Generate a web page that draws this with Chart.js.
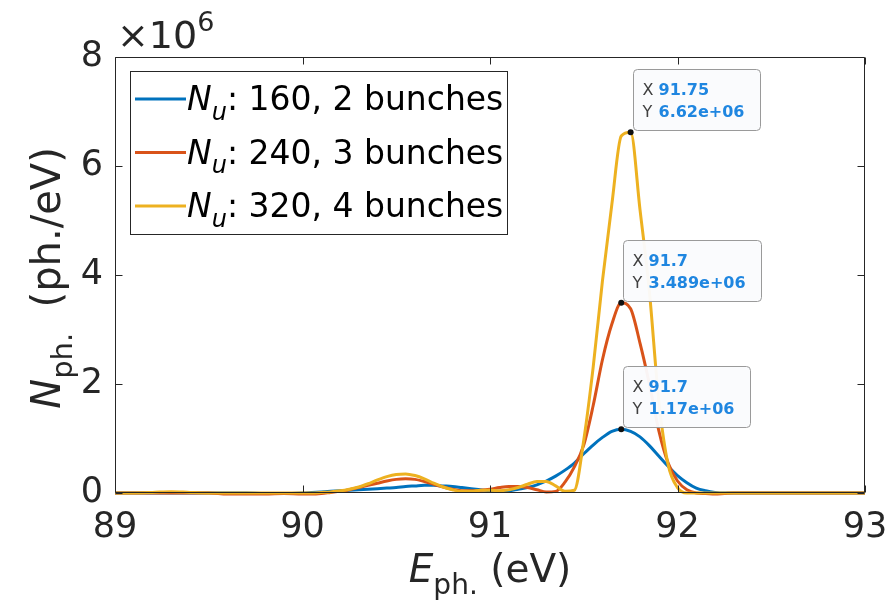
<!DOCTYPE html>
<html>
<head>
<meta charset="utf-8">
<script src="https://cdn.jsdelivr.net/npm/chart.js@4"></script>
<style>
  body { margin: 0; background: #fff; }
</style>
</head>
<body>
<canvas id="myChart" width="888" height="603"></canvas>
<script>
// photon energy grid (eV)
const energies = [
  89.0, 89.1, 89.2, 89.3, 89.4, 89.5, 89.6, 89.7, 89.8, 89.9,
  90.00, 90.05, 90.10, 90.15, 90.20, 90.25, 90.30, 90.35, 90.40, 90.45,
  90.50, 90.55, 90.60, 90.65, 90.70, 90.75, 90.80, 90.85, 90.90, 90.95,
  91.00, 91.05, 91.10, 91.15, 91.20, 91.25, 91.30, 91.35, 91.40, 91.45,
  91.50, 91.55, 91.60, 91.65, 91.70, 91.75, 91.80, 91.85, 91.90, 91.95,
  92.00, 92.05, 92.10, 92.15, 92.20, 92.25, 92.30,
  92.4, 92.5, 92.6, 92.7, 92.8, 92.9, 93.0
];

// spectra in units of 1e6 ph./eV
const nu160 = [
  0, 0, 0, 0, 0, 0, 0, 0, -0.01, -0.01,
  0, 0.01, 0.02, 0.03, 0.04, 0.05, 0.06, 0.07, 0.08, 0.09,
  0.10, 0.12, 0.13, 0.14, 0.14, 0.13, 0.12, 0.10, 0.08, 0.06,
  0.04, 0.03, 0.04, 0.07, 0.10, 0.15, 0.22, 0.31, 0.42, 0.55,
  0.72, 0.88, 1.02, 1.13, 1.17, 1.13, 1.03, 0.87, 0.68, 0.49,
  0.32, 0.19, 0.09, 0.04, 0.01, 0, 0,
  0, 0, 0, 0, 0, 0, 0
];
const nu240 = [
  0, 0, 0, 0, 0, 0, -0.02, -0.02, -0.02, -0.01,
  -0.02, -0.02, -0.01, 0.01, 0.03, 0.06, 0.10, 0.14, 0.18, 0.22,
  0.25, 0.26, 0.25, 0.21, 0.16, 0.11, 0.07, 0.04, 0.04, 0.05,
  0.07, 0.10, 0.12, 0.12, 0.10, 0.06, 0.02, 0.03, 0.20, 0.48,
  0.88, 1.60, 2.45, 3.10, 3.489, 3.38, 2.75, 2.00, 1.15, 0.55,
  0.22, 0.06, 0, -0.01, -0.02, -0.01, 0,
  0, 0, 0, 0, 0, 0, 0
];
const nu320 = [
  0, 0, 0.01, 0.025, 0.01, 0, 0, 0, 0, 0,
  0, 0, 0.01, 0.02, 0.04, 0.07, 0.11, 0.17, 0.24, 0.30,
  0.34, 0.35, 0.32, 0.26, 0.18, 0.11, 0.06, 0.03, 0.03, 0.05,
  0.05, 0.04, 0.06, 0.10, 0.16, 0.21, 0.21, 0.13, 0.03, 0.05,
  0.97, 2.30, 3.90, 5.30, 6.55, 6.62, 5.20, 3.70, 1.70, 0.52,
  0.10, 0, 0, 0, 0, 0, 0,
  0, 0, 0, 0, 0, 0, 0
];

const undulatorPeriods = [160, 240, 320];
const bunchCounts = [2, 3, 4];
const lineColors = ['#0072BD', '#D95319', '#EDB120'];

// data tips: which series and at which energy
const tipSeries = [2, 1, 0];
const tipEnergies = [91.75, 91.7, 91.7];

const FONT = '"DejaVu Sans"';
const INK = '#262626';

function partFont(p, size) {
  const s = (p.sub || p.sup) ? size * 0.72 : size;
  return (p.bold ? 'bold ' : '') + (p.italic ? 'italic ' : '') + Math.round(s) + 'px ' + FONT;
}
function richWidth(ctx, parts, size) {
  let w = 0;
  parts.forEach(p => { ctx.font = partFont(p, size); w += ctx.measureText(p.text).width; });
  return w;
}
function drawRich(ctx, parts, x, y, size) {
  parts.forEach(p => {
    ctx.font = partFont(p, size);
    const dy = p.sub ? size * 0.3 : (p.sup ? -size * 0.45 : 0);
    ctx.fillText(p.text, x, y + dy);
    x += ctx.measureText(p.text).width;
  });
}

const matlabDecor = {
  id: 'matlabDecor',
  beforeDraw(chart) {
    const ctx = chart.ctx;
    ctx.save();
    ctx.fillStyle = '#fff';
    ctx.fillRect(0, 0, chart.width, chart.height);
    ctx.restore();
  },
  afterDraw(chart) {
    const { ctx, chartArea: a, scales } = chart;
    const xs = scales.x, ys = scales.y;
    ctx.save();
    ctx.textBaseline = 'alphabetic';

    // axes box + inward ticks
    const L = Math.round(a.left) + 0.5, R = Math.round(a.right) - 0.5;
    const T = Math.round(a.top) + 0.5, B = Math.round(a.bottom) - 0.5;
    ctx.strokeStyle = INK;
    ctx.lineWidth = 1;
    ctx.beginPath();
    ctx.rect(L, T, R - L, B - T);
    xs.ticks.forEach(t => {
      const px = Math.round(xs.getPixelForValue(t.value)) + 0.5;
      ctx.moveTo(px, B); ctx.lineTo(px, B - 7);
      ctx.moveTo(px, T); ctx.lineTo(px, T + 7);
    });
    ys.ticks.forEach(t => {
      const py = Math.round(ys.getPixelForValue(t.value)) + 0.5;
      ctx.moveTo(L, py); ctx.lineTo(L + 7, py);
      ctx.moveTo(R, py); ctx.lineTo(R - 7, py);
    });
    ctx.stroke();

    // exponent label
    ctx.fillStyle = INK;
    drawRich(ctx, [{ text: '\u00d710' }, { text: '6', sup: true }], a.left + 2, a.top - 9, 38);

    // axis titles
    const xParts = [{ text: 'E', italic: true }, { text: 'ph.', sub: true }, { text: ' (eV)' }];
    const xw = richWidth(ctx, xParts, 39);
    drawRich(ctx, xParts, (a.left + a.right) / 2 - xw / 2, 582, 39);

    const yParts = [{ text: 'N', italic: true }, { text: 'ph.', sub: true }, { text: '  (ph./eV)' }];
    const yw = richWidth(ctx, yParts, 40);
    ctx.save();
    ctx.translate(60, (a.top + a.bottom) / 2 + 3);
    ctx.rotate(-Math.PI / 2);
    drawRich(ctx, yParts, -yw / 2, 0, 40);
    ctx.restore();

    // legend
    const lx = 130, ly = 71, lw = 377, lh = 163;
    ctx.fillStyle = '#fff';
    ctx.fillRect(lx, ly, lw, lh);
    ctx.strokeStyle = INK;
    ctx.lineWidth = 1;
    ctx.strokeRect(lx + 0.5, ly + 0.5, lw, lh);
    undulatorPeriods.forEach((n, i) => {
      const ry = ly + 28 + i * 53.5;
      ctx.strokeStyle = lineColors[i];
      ctx.lineWidth = 3;
      ctx.beginPath();
      ctx.moveTo(lx + 5, ry); ctx.lineTo(lx + 56, ry);
      ctx.stroke();
      ctx.fillStyle = '#000';
      drawRich(ctx, [
        { text: 'N', italic: true },
        { text: 'u', italic: true, sub: true },
        { text: ': ' + n + ', ' + bunchCounts[i] + ' bunches' }
      ], lx + 57, ry + 11, 33);
    });

    // data tips
    tipSeries.forEach((s, k) => {
      const idx = energies.indexOf(tipEnergies[k]);
      const pt = chart.getDatasetMeta(s).data[idx];
      const val = chart.data.datasets[s].data[idx].y;
      const xTxt = String(tipEnergies[k]);
      const yTxt = val.toPrecision(4).replace(/\.?0+$/, '') + 'e+06';
      ctx.font = 'bold 16px ' + FONT;
      const vw = Math.max(ctx.measureText(xTxt).width, ctx.measureText(yTxt).width);
      const bw = Math.round(27 + vw + 14), bh = 61;
      const bx = Math.round(pt.x) + 2.5, by = Math.round(pt.y) - 1.5 - bh;
      ctx.fillStyle = 'rgba(250,251,253,0.96)';
      ctx.strokeStyle = '#9a9a9a';
      ctx.lineWidth = 1;
      ctx.beginPath();
      ctx.roundRect(bx, by, bw, bh, 4);
      ctx.fill();
      ctx.stroke();
      ctx.font = '16px ' + FONT;
      ctx.fillStyle = '#404040';
      ctx.fillText('X', bx + 9, by + 25);
      ctx.fillText('Y', bx + 9, by + 47);
      ctx.font = 'bold 16px ' + FONT;
      ctx.fillStyle = '#1f86e0';
      ctx.fillText(xTxt, bx + 25, by + 25);
      ctx.fillText(yTxt, bx + 25, by + 47);
      ctx.fillStyle = '#111';
      ctx.beginPath();
      ctx.arc(pt.x, pt.y, 3, 0, Math.PI * 2);
      ctx.fill();
    });
    ctx.restore();
  }
};

const seriesValues = [nu160, nu240, nu320];
const ctx = document.getElementById('myChart').getContext('2d');
const myChart = new Chart(ctx, {
  type: 'line',
  data: {
    datasets: seriesValues.map((vals, i) => ({
      label: 'N_u: ' + undulatorPeriods[i] + ', ' + bunchCounts[i] + ' bunches',
      data: energies.map((e, j) => ({ x: e, y: vals[j] })),
      borderColor: lineColors[i],
      backgroundColor: lineColors[i],
      borderWidth: 3,
      pointRadius: 0,
      cubicInterpolationMode: 'monotone',
      fill: false,
      order: 3 - i,
      clip: 4
    }))
  },
  options: {
    responsive: false,
    animation: false,
    devicePixelRatio: 1,
    layout: { padding: { top: 57, right: 23, left: 0, bottom: 0 } },
    plugins: {
      legend: { display: false },
      tooltip: { enabled: false }
    },
    scales: {
      x: {
        type: 'linear',
        min: 89,
        max: 93,
        ticks: { stepSize: 1, maxRotation: 0, padding: 14, color: INK, font: { family: FONT, size: 35 } },
        grid: { display: false, drawTicks: false },
        border: { display: false },
        afterFit: s => { s.height = 110; s.paddingLeft = 0; s.paddingRight = 0; }
      },
      y: {
        min: 0,
        max: 8,
        ticks: { stepSize: 2, padding: 12, color: INK, font: { family: FONT, size: 35 } },
        grid: { display: false, drawTicks: false },
        border: { display: false },
        afterFit: s => { s.width = 115; s.paddingTop = 0; s.paddingBottom = 0; }
      }
    }
  },
  plugins: [matlabDecor]
});
</script>
</body>
</html>
